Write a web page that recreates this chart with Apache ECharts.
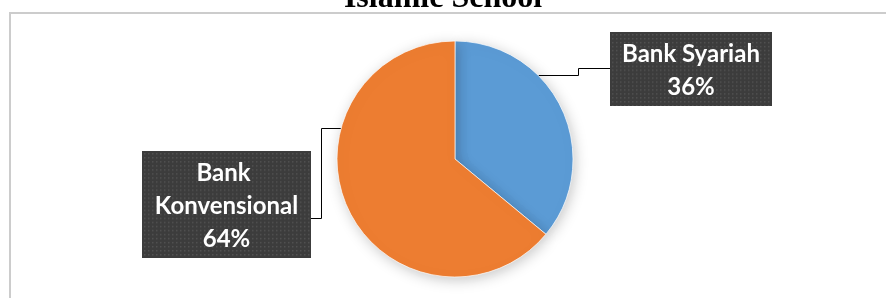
<!DOCTYPE html>
<html>
<head>
<meta charset="utf-8">
<title>Islamic School</title>
<script src="https://cdn.jsdelivr.net/npm/echarts@6/dist/echarts.min.js"></script>
<style>
  html, body { margin: 0; padding: 0; background: #fff; }
  #chart { width: 886px; height: 298px; }
</style>
</head>
<body>
<div id="chart"></div>
<script>
// data
var categories = ['Bank Syariah', 'Bank Konvensional'];
var shares = [36, 64];
var sliceColors = ['#5b9bd5', '#ed7d31'];

// pie geometry (px)
var pieCenter = [455, 159],
    pieRadius = 118;

// label boxes: centre x, top, width, height, which side the line leaves, line y, elbow x, y where line meets the pie
var boxes = [
  { cx: 691, top: 32, w: 162, h: 75, side: 'left', lineY: 68.5, elbowX: 578.5, arcY: 75.5 },
  { cx: 226.5, top: 151, w: 169, h: 106, side: 'right', lineY: 218.5, elbowX: 321.5, arcY: 128.5 }
];

// dotted dark fill like the office label style
function makeTexture(w, h) {
  var c = document.createElement('canvas');
  c.width = w;
  c.height = h;
  var ctx = c.getContext('2d');
  ctx.fillStyle = '#3c3c3c';
  ctx.fillRect(0, 0, w, h);
  ctx.fillStyle = '#525252';
  for (var y = 2; y < h; y += 4) {
    for (var x = 2; x < w; x += 4) {
      ctx.fillRect(x, y, 1.5, 1.5);
    }
  }
  return c;
}

var chart = echarts.init(document.getElementById('chart'));

var pieData = categories.map(function(name, i) {
  return {
    name: name,
    value: shares[i],
    itemStyle: { color: sliceColors[i] },
    label: {
      width: boxes[i].w,
      backgroundColor: { image: makeTexture(boxes[i].w, boxes[i].h) }
    }
  };
});

chart.setOption({
  animation: false,
  title: {
    text: 'Islamic School',
    left: 'center',
    top: -17,
    padding: 0,
    textStyle: {
      fontFamily: '"Liberation Serif", "Times New Roman", serif',
      fontWeight: 'bold',
      fontSize: 32,
      color: '#000'
    }
  },
  graphic: [
    {
      type: 'rect',
      z: -10,
      shape: { x: 10, y: 13, width: 900, height: 320 },
      style: { fill: 'none', stroke: '#cccccc', lineWidth: 2 }
    }
  ],
  series: [
    {
      name: 'Islamic School',
      type: 'pie',
      center: pieCenter,
      radius: pieRadius,
      startAngle: 90,
      clockwise: true,
      avoidLabelOverlap: false,
      itemStyle: {
        borderColor: 'rgba(255,255,255,0.7)',
        borderWidth: 1,
        shadowBlur: 14,
        shadowOffsetX: 2,
        shadowOffsetY: 3,
        shadowColor: 'rgba(0,0,0,0.22)'
      },
      label: {
        show: true,
        position: 'outside',
        color: '#fff',
        fontFamily: 'Lato, "Open Sans", sans-serif',
        fontWeight: 'bold',
        fontSize: 24,
        lineHeight: 33,
        align: 'center',
        overflow: 'break',
        padding: [6, 0, 2, 0],
        shadowColor: 'rgba(0,0,0,0.45)',
        shadowBlur: 6,
        shadowOffsetX: 3,
        shadowOffsetY: 3,
        formatter: function(p) {
          return p.name + '\n' + Math.round(p.percent) + '%';
        }
      },
      labelLine: {
        show: true,
        length: 10,
        length2: 10,
        smooth: false,
        lineStyle: { color: '#000', width: 1 }
      },
      labelLayout: function(params) {
        var b = boxes[params.dataIndex];
        var dy = b.arcY - pieCenter[1];
        var dx = Math.sqrt(pieRadius * pieRadius - dy * dy);
        var arcX = b.side === 'left' ? pieCenter[0] + dx : pieCenter[0] - dx;
        var edgeX = b.side === 'left' ? b.cx - b.w / 2 : b.cx + b.w / 2;
        return {
          x: b.cx,
          y: b.top,
          align: 'center',
          verticalAlign: 'top',
          labelLinePoints: [
            [arcX, b.arcY],
            [b.elbowX, b.arcY],
            [b.elbowX, b.lineY],
            [edgeX, b.lineY]
          ]
        };
      },
      data: pieData
    }
  ]
});

window.addEventListener('resize', function() {
  chart.resize();
});
</script>
</body>
</html>
